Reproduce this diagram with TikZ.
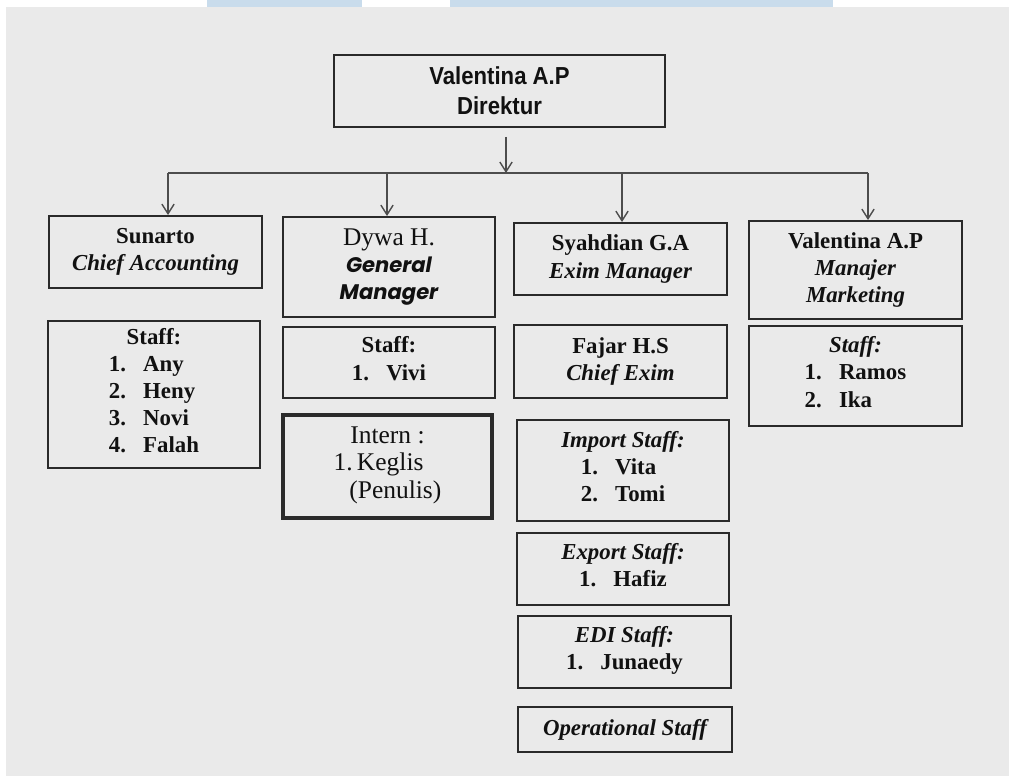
\documentclass[tikz,border=0pt]{standalone}
\usepackage{fontspec}
\setmainfont{Liberation Serif}
\newfontfamily\dirfont[FakeStretch=0.9]{Liberation Sans}
\newfontfamily\gmfont{Poppins}
\usetikzlibrary{arrows.meta}

\definecolor{bgcol}{HTML}{EAEAEA}
\definecolor{markcol}{HTML}{C9DCEC}
\definecolor{boxline}{HTML}{2A2A2A}
\definecolor{linecol}{HTML}{4D4D4D}
\definecolor{textcol}{HTML}{111111}

\newcommand{\bi}[1]{{\bfseries\itshape #1}}

\tikzset{
  box/.style={draw=boxline, line width=1.1pt, inner sep=0pt, align=center, text=textcol,
    font={\fontsize{13}{15.4}\selectfont\bfseries}},
  thickbox/.style={box, line width=2.4pt},
  conn/.style={draw=linecol, line width=0.8pt},
  arr/.style={conn, -{Straight Barb[length=5.5pt,width=7pt]}},
}

\begin{document}
\begin{tikzpicture}[x=0.02cm, y=-0.02cm]

				\useasboundingbox (0,0) rectangle (1009,776);
				\fill [white] (0,0) rectangle (1009,776);
				\fill [bgcol] (6,7) rectangle (1009,776);
				\fill [markcol] (207,0) rectangle (362,7);
				\fill [markcol] (450,0) rectangle (833,7);

				% top
				\node [box, minimum width=6.62cm, minimum height=1.44cm, font={\dirfont\bfseries\fontsize{14}{17}\selectfont}] (dir) at (499.5,91) {Valentina A.P\\Direktur};

				% accounting
				\node [box, minimum width=4.26cm, minimum height=1.44cm] (acc) at (155.5,252) {Sunarto\\\bi{Chief Accounting}};
				\node [box, minimum width=4.24cm, minimum height=2.94cm] (accstaff) at (154,394.5) {Staff:\\\begin{tabular}[t]{@{}l@{\hspace{.75em}}l@{}}1.&Any\\2.&Heny\\3.&Novi\\4.&Falah\end{tabular}};

				% general manager
				\node [box, minimum width=4.24cm, minimum height=2.0cm] (gm) at (389,267) {{\mdseries\fontsize{14.5}{15.4}\selectfont Dywa H.}\\{\gmfont\itshape\fontsize{12}{15.4}\selectfont General}\\{\gmfont\itshape\fontsize{12}{15.4}\selectfont Manager}};
				\node [box, minimum width=4.24cm, minimum height=1.42cm] (gmstaff) at (389,362.5) {Staff:\\\begin{tabular}[t]{@{}l@{\hspace{.75em}}l@{}}1.&Vivi\end{tabular}};
				\node [thickbox, minimum width=4.18cm, minimum height=2.06cm, font={\mdseries\fontsize{14.5}{15.6}\selectfont}] (intern) at (387.5,466.5) {Intern :\\\begin{tabular}[t]{@{}l@{\,}l@{}}1.&Keglis\\&\hspace{-.3em}(Penulis)\end{tabular}};

				% exim
				\node [box, minimum width=4.26cm, minimum height=1.44cm] (exim) at (620.5,259) {Syahdian G.A\\\bi{Exim Manager}};
				\node [box, minimum width=4.26cm, minimum height=1.46cm] (chiefexim) at (620.5,361.5) {Fajar H.S\\\bi{Chief Exim}};
				\node [box, minimum width=4.24cm, minimum height=2.02cm] (import) at (623,470.5) {\bi{Import Staff:}\\\begin{tabular}[t]{@{}l@{\hspace{.75em}}l@{}}1.&Vita\\2.&Tomi\end{tabular}};
				\node [box, minimum width=4.24cm, minimum height=1.44cm] (export) at (623,569) {\bi{Export Staff:}\\\begin{tabular}[t]{@{}l@{\hspace{.75em}}l@{}}1.&Hafiz\end{tabular}};
				\node [box, minimum width=4.26cm, minimum height=1.44cm] (edi) at (624.5,652) {\bi{EDI Staff:}\\\begin{tabular}[t]{@{}l@{\hspace{.75em}}l@{}}1.&Junaedy\end{tabular}};
				\node [box, minimum width=4.28cm, minimum height=0.9cm] (oper) at (625,729.5) {\bi{Operational Staff}};

				% marketing
				\node [box, minimum width=4.26cm, minimum height=1.96cm] (mkt) at (855.5,270) {Valentina A.P\\\bi{Manajer}\\\bi{Marketing}};
				\node [box, minimum width=4.26cm, minimum height=2.0cm] (mktstaff) at (855.5,376) {\bi{Staff:}\\\begin{tabular}[t]{@{}l@{\hspace{.75em}}l@{}}1.&Ramos\\2.&Ika\end{tabular}};

				% connectors
				\coordinate (dirout) at (506,137);
				\coordinate (bus) at (506,173);
				\coordinate (b1) at (168,173);
				\coordinate (b2) at (387,173);
				\coordinate (b3) at (622,173);
				\coordinate (b4) at (868,173);

				\draw [arr] (dirout) -- (bus);
				\draw [conn] (b1) -- (b4);
				\draw [arr] (b1) -- (b1 |- acc.north);
				\draw [arr] (b2) -- (b2 |- gm.north);
				\draw [arr] (b3) -- (b3 |- exim.north);
				\draw [arr] (b4) -- (b4 |- mkt.north);
		\end{tikzpicture}
\end{document}
